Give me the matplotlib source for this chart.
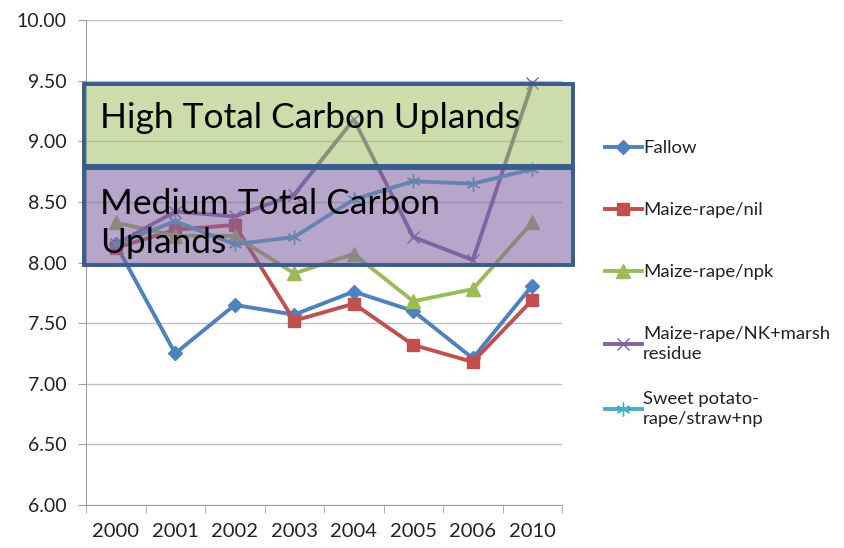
import matplotlib
matplotlib.use("Agg")
import matplotlib.pyplot as plt
from matplotlib.patches import Rectangle

plt.rcParams['font.family'] = ['Lato', 'DejaVu Sans']

years = ["2000", "2001", "2002", "2003", "2004", "2005", "2006", "2010"]
fallow = [8.15, 7.25, 7.65, 7.57, 7.76, 7.60, 7.21, 7.81]
maize_nil = [8.12, 8.27, 8.31, 7.52, 7.66, 7.32, 7.18, 7.69]
maize_npk = [8.33, 8.22, 8.22, 7.91, 8.07, 7.68, 7.78, 8.33]
maize_nk_marsh = [8.15, 8.42, 8.38, 8.56, 9.18, 8.21, 8.02, 9.48]
sweet_potato = [8.15, 8.34, 8.15, 8.21, 8.52, 8.67, 8.65, 8.77]

series_names = ["Fallow", "Maize-rape/nil", "Maize-rape/npk",
                "Maize-rape/NK+marsh\nresidue", "Sweet potato-\nrape/straw+np"]
series_values = [fallow, maize_nil, maize_npk, maize_nk_marsh, sweet_potato]
colors = ["#4F81BD", "#C0504D", "#9BBB59", "#8064A2", "#4BACC6"]
markers = ["D", "s", "^", "x", (6, 2, 0)]
msizes = [7, 9, 10, 9, 10]

high_band = (8.80, 9.47)
medium_band = (7.98, 8.78)

fig = plt.figure(figsize=(8.44, 5.48), dpi=100)
ax = fig.add_axes([86/844, 1-505/548, (562-86)/844, (505-20)/548])

x = list(range(len(years)))
lines = []
for name, vals, c, m, ms in zip(series_names, series_values, colors, markers, msizes):
    ln, = ax.plot(x, vals, color=c, lw=2.8, marker=m, markersize=ms,
                  markeredgewidth=1.0, markeredgecolor=c,
                  markerfacecolor=c, label=name, zorder=3)
    lines.append(ln)

ax.set_xlim(-0.5, len(years) - 0.5)
ax.set_ylim(6.0, 10.0)
ax.set_yticks([6.0 + 0.5*i for i in range(9)])
ax.set_yticklabels([f"{6.0 + 0.5*i:.2f}" for i in range(9)], fontsize=14, color="#222222")
ax.set_xticks(x)
ax.set_xticklabels(years, fontsize=14.5, color="#222222")
ax.set_xticks([i - 0.5 for i in range(len(years) + 1)], minor=True)
ax.tick_params(axis='x', which='major', length=0, pad=13)
ax.tick_params(axis='x', which='minor', length=6, color="#A0A0A0")
ax.tick_params(axis='y', length=6, color="#A0A0A0", pad=8)
ax.grid(axis='y', color="#BFBFBF", lw=1)
ax.set_axisbelow(True)
for s in ["top", "right"]:
    ax.spines[s].set_visible(False)
for s in ["left", "bottom"]:
    ax.spines[s].set_color("#A0A0A0")

# Overlaid bands
x0, x1 = -0.53, 7.68
for (lo, hi), fc, a in [(high_band, "#9BBB59", 0.5), (medium_band, "#8064A2", 0.57)]:
    ax.add_patch(Rectangle((x0, lo), x1 - x0, hi - lo, facecolor=fc, alpha=a,
                           edgecolor="none", zorder=4, clip_on=False))
    ax.add_patch(Rectangle((x0, lo), x1 - x0, hi - lo, facecolor="none",
                           edgecolor="#385D8A", lw=2.8, zorder=5, clip_on=False))

ax.text(-0.26, 9.19, "High Total Carbon Uplands",
        fontsize=25.5, va="center", ha="left", zorder=6)
ax.text(-0.26, 8.32, "Medium Total Carbon\nUplands",
        fontsize=25.5, va="center", ha="left", zorder=6, linespacing=1.25)

leg_kw = dict(frameon=False, fontsize=13.3, handlelength=2.0, handletextpad=0.05,
              borderaxespad=0, borderpad=0, loc="upper left", bbox_transform=fig.transFigure)
leg1 = ax.legend(lines[:4], series_names[:4], bbox_to_anchor=(605/844, 1-140/548),
                 labelspacing=2.49, **leg_kw)
ax.add_artist(leg1)
leg2 = ax.legend(lines[4:], series_names[4:], bbox_to_anchor=(605/844, 1-391/548), **leg_kw)
for leg in (leg1, leg2):
    for t in leg.get_texts():
        t.set_linespacing(1.3)
        t.set_color("#222222")

fig.savefig("out.png", dpi=100)
